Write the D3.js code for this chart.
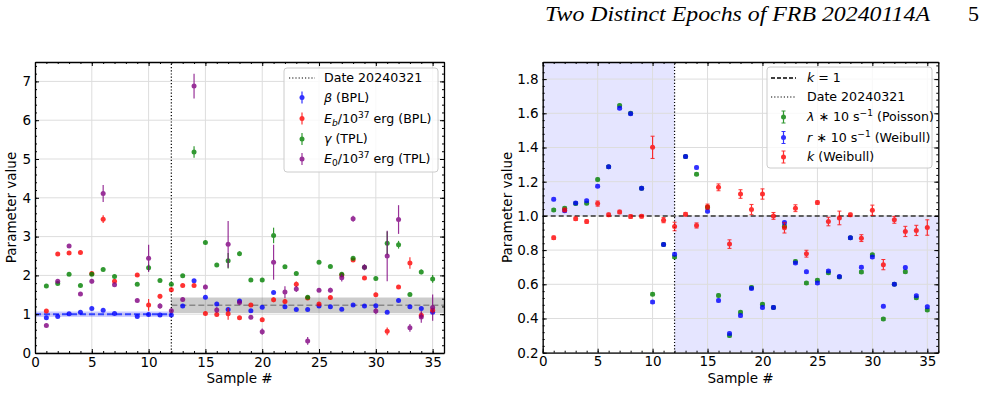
<html>
<head>
<script src="https://d3js.org/d3.v7.min.js"></script>
<style>
  body { margin: 0; background: #fff; }
  text { font-family: "DejaVu Sans", sans-serif; fill: #000; }
  .grid line { stroke: #dddddd; stroke-width: 1; }
  .frame path, .frame line { stroke: #000; }
</style>
</head>
<body>
<svg id="chart" width="984" height="393"></svg>
<script>
// ---- left panel data (sample 8 absent) ----
const leftSamples = [1,2,3,4,5,6,7,9,10,11,12,13,14,15,16,17,18,19,20,21,22,23,24,25,26,27,28,29,30,31,32,33,34,35];
const betaBPL   = [0.91,0.94,1.01,1.05,1.15,1.10,1.02,0.94,0.99,0.98,0.98,1.21,1.86,1.44,1.26,1.12,1.34,1.09,1.18,1.56,1.19,1.12,1.12,1.21,1.19,1.13,1.24,1.21,1.22,1.05,1.35,1.19,1.15,1.05];
const betaErr   = [0.03,0.03,0.03,0.03,0.03,0.03,0.03,0.03,0.03,0.03,0.03,0.03,0.03,0.03,0.03,0.04,0.04,0.03,0.03,0.04,0.03,0.03,0.03,0.03,0.03,0.03,0.03,0.03,0.03,0.04,0.04,0.03,0.03,0.04];
const ebBPL     = [1.08,2.55,2.58,2.59,2.05,3.45,1.85,2.01,1.24,1.46,1.63,1.74,1.74,1.02,0.99,1.01,0.91,1.24,0.86,1.37,1.33,1.77,1.42,1.26,1.43,2.01,2.40,1.93,1.50,0.56,1.70,2.32,0.97,1.10];
const ebErr     = [0.04,0.04,0.04,0.04,0.04,0.10,0.04,0.04,0.15,0.06,0.05,0.04,0.04,0.04,0.04,0.15,0.04,0.05,0.05,0.06,0.07,0.07,0.05,0.04,0.05,0.05,0.05,0.04,0.05,0.10,0.05,0.15,0.08,0.06];
const gammaTPL  = [1.73,1.79,2.03,1.74,2.03,2.15,1.97,1.77,2.20,1.87,1.77,1.99,5.18,2.85,2.27,2.38,2.56,1.88,1.88,3.03,2.22,2.05,1.44,2.34,2.23,2.03,2.44,2.21,1.92,2.83,2.79,1.51,2.09,1.91];
const gammaErr  = [0.04,0.04,0.04,0.04,0.04,0.04,0.04,0.04,0.08,0.04,0.04,0.04,0.15,0.04,0.04,0.20,0.06,0.04,0.04,0.20,0.05,0.04,0.05,0.04,0.04,0.04,0.05,0.05,0.04,0.30,0.10,0.04,0.06,0.10];
const e0TPL     = [0.71,1.85,2.76,1.52,1.85,4.11,1.76,1.35,2.44,1.21,1.09,1.38,6.88,1.70,1.11,2.80,1.30,0.92,0.55,2.34,1.57,1.65,0.31,1.62,1.62,1.94,3.46,2.21,1.08,2.50,3.44,0.65,0.93,1.17];
const e0Err     = [0.04,0.04,0.05,0.04,0.06,0.22,0.05,0.04,0.35,0.07,0.05,0.05,0.32,0.06,0.07,0.60,0.05,0.05,0.08,0.45,0.15,0.08,0.10,0.05,0.06,0.10,0.08,0.08,0.08,0.65,0.37,0.10,0.15,0.34];
// mean levels with bands before / after 20240321
const betaBefore = { mean: 1.0, lo: 0.93, hi: 1.07 };
const betaAfter  = { mean: 1.23, lo: 1.03, hi: 1.43 };

// ---- right panel data ----
const rightSamples = d3.range(1, 36);
const lambdaPois = [1.035,1.045,1.072,1.074,1.213,1.287,1.645,1.600,1.161,0.542,0.833,0.760,1.347,1.244,1.050,0.535,0.300,0.436,0.582,0.483,0.465,0.940,0.734,0.607,0.624,0.667,0.643,0.872,0.672,0.773,0.397,0.601,0.674,0.521,0.450];
const rWeib      = [1.097,1.030,1.076,1.089,1.174,1.287,1.630,1.598,1.161,0.496,0.833,0.776,1.347,1.283,1.027,0.505,0.312,0.417,0.576,0.465,0.465,0.961,0.725,0.674,0.607,0.678,0.645,0.872,0.700,0.760,0.471,0.601,0.698,0.533,0.469];
const kWeib      = [0.872,1.035,0.983,0.967,1.072,1.006,1.023,0.996,0.998,1.401,0.975,0.938,1.010,0.944,1.054,1.167,0.835,1.128,1.037,1.128,1.000,0.930,1.045,0.779,1.078,0.967,0.988,1.006,0.870,1.033,0.715,0.977,0.909,0.915,0.932];
const kErr       = [0.010,0.010,0.010,0.010,0.015,0.010,0.010,0.010,0.010,0.065,0.015,0.025,0.010,0.015,0.015,0.020,0.025,0.025,0.030,0.030,0.020,0.030,0.020,0.020,0.010,0.025,0.040,0.010,0.020,0.030,0.030,0.020,0.030,0.030,0.045];
const rateErr    = 0.008;

const epochSample = 12;

const svg = d3.select("#chart");

// header
svg.append("text").attr("x", 545).attr("y", 21)
  .style("font-family", "'Liberation Serif', serif").style("font-style", "italic")
  .attr("font-size", 22).attr("textLength", 385).attr("lengthAdjust", "spacingAndGlyphs")
  .text("Two Distinct Epochs of FRB 20240114A");
svg.append("text").attr("x", 968).attr("y", 21)
  .style("font-family", "'Liberation Serif', serif")
  .attr("font-size", 22).text("5");

function richText(g, x, y, segs, size) {
  const t = g.append("text").attr("x", x).attr("y", y).attr("font-size", size);
  let shift = 0;
  segs.forEach((s, i) => {
    const ts = t.append("tspan").text(s.t);
    let target = 0;
    if (s.sub) target = size * 0.22;
    if (s.sup) target = -size * 0.42;
    ts.attr("dy", (i === 0 ? size * 0.35 : 0) + target - shift);
    shift = target;
    if (s.it) ts.style("font-style", "italic");
    if (target !== 0) ts.attr("font-size", size * 0.72);
  });
}

function drawPanel(opts) {
  const x = d3.scaleLinear().domain([0, 36]).range([opts.left, opts.right]);
  const y = d3.scaleLinear().domain(opts.yDomain).range([opts.bottom, opts.top]);
  const g = svg.append("g");

  const under = g.append("g");
  opts.under && opts.under(under, x, y);

  // grid
  const grid = g.append("g").attr("class", "grid");
  grid.selectAll("line.v").data(opts.xTicks).join("line").attr("class", "v")
    .attr("x1", d => x(d)).attr("x2", d => x(d)).attr("y1", opts.top).attr("y2", opts.bottom);
  grid.selectAll("line.h").data(opts.yTicks).join("line").attr("class", "h")
    .attr("x1", opts.left).attr("x2", opts.right).attr("y1", d => y(d)).attr("y2", d => y(d));

  opts.over && opts.over(g, x, y);

  // series
  opts.series.forEach(s => {
    const sg = g.append("g").attr("opacity", 0.8);
    const pts = s.xs.map((xv, i) => ({ x: xv, v: s.values[i], e: s.errs[i] }));
    sg.selectAll("line.err").data(pts).join("line").attr("class", "err")
      .attr("x1", d => x(d.x)).attr("x2", d => x(d.x))
      .attr("y1", d => y(d.v - d.e)).attr("y2", d => y(d.v + d.e))
      .attr("stroke", s.color).attr("stroke-width", 1.2);
    if (opts.caps) {
      [-1, 1].forEach(sign => {
        sg.selectAll("line.cap" + sign).data(pts).join("line").attr("class", "cap" + sign)
          .attr("x1", d => x(d.x) - 2).attr("x2", d => x(d.x) + 2)
          .attr("y1", d => y(d.v + sign * d.e)).attr("y2", d => y(d.v + sign * d.e))
          .attr("stroke", s.color).attr("stroke-width", 1);
      });
    }
    sg.selectAll("circle").data(pts).join("circle")
      .attr("cx", d => x(d.x)).attr("cy", d => y(d.v)).attr("r", 2.5).attr("fill", s.color);
  });

  // frame and ticks
  const frame = g.append("g").attr("class", "frame");
  const font = (sel) => sel.attr("font-size", 13.5).attr("font-family", "DejaVu Sans");
  const xMinor = d3.range(0, 37, 1);
  frame.append("g").attr("transform", `translate(0,${opts.bottom})`)
    .call(d3.axisBottom(x).tickValues(opts.xTicks).tickSize(-4).tickSizeOuter(0).tickPadding(4))
    .call(font);
  frame.append("g").attr("transform", `translate(0,${opts.top})`)
    .call(d3.axisTop(x).tickValues(opts.xTicks).tickSize(-4).tickSizeOuter(0).tickFormat(""));
  frame.append("g").attr("transform", `translate(${opts.left},0)`)
    .call(d3.axisLeft(y).tickValues(opts.yTicks).tickSize(-4).tickSizeOuter(0).tickPadding(4).tickFormat(opts.yFormat))
    .call(font);
  frame.append("g").attr("transform", `translate(${opts.right},0)`)
    .call(d3.axisRight(y).tickValues(opts.yTicks).tickSize(-4).tickSizeOuter(0).tickFormat(""));
  // minor ticks
  [[d3.axisBottom, opts.bottom], [d3.axisTop, opts.top]].forEach(([ax, pos]) => {
    frame.append("g").attr("transform", `translate(0,${pos})`)
      .call(ax(x).tickValues(xMinor).tickSize(-2).tickSizeOuter(0).tickFormat(""))
      .call(a => a.select(".domain").remove());
  });
  [[d3.axisLeft, opts.left], [d3.axisRight, opts.right]].forEach(([ax, pos]) => {
    frame.append("g").attr("transform", `translate(${pos},0)`)
      .call(ax(y).tickValues(opts.yMinor).tickSize(-2).tickSizeOuter(0).tickFormat(""))
      .call(a => a.select(".domain").remove());
  });
  frame.selectAll(".domain").attr("stroke-width", 1.3);

  // axis labels
  svg.append("text").attr("x", (opts.left + opts.right) / 2).attr("y", opts.bottom + 30)
    .attr("text-anchor", "middle").attr("font-size", 13.5).text("Sample #");
  svg.append("text")
    .attr("transform", `translate(${opts.left - opts.yLabelGap},${(opts.top + opts.bottom) / 2}) rotate(-90)`)
    .attr("text-anchor", "middle").attr("font-size", 13.5).text("Parameter value");

  return { x, y };
}

// ---------- LEFT PANEL ----------
drawPanel({
  left: 35, right: 444, top: 62, bottom: 353,
  yDomain: [0, 7.5],
  xTicks: d3.range(0, 36, 5),
  yTicks: d3.range(0, 8, 1),
  yMinor: d3.range(0, 38).map(d => d / 5),
  yFormat: d3.format("d"),
  yLabelGap: 19,
  caps: false,
  over: (g, x, y) => {
    g.append("rect").attr("x", x(0)).attr("width", x(epochSample) - x(0))
      .attr("y", y(betaBefore.hi)).attr("height", y(betaBefore.lo) - y(betaBefore.hi))
      .attr("fill", "blue").attr("opacity", 0.2);
    g.append("line").attr("x1", x(0)).attr("x2", x(epochSample))
      .attr("y1", y(betaBefore.mean)).attr("y2", y(betaBefore.mean))
      .attr("stroke", "#3344ff").attr("stroke-width", 2).attr("stroke-dasharray", "6,3");
    g.append("rect").attr("x", x(epochSample)).attr("width", x(36) - x(epochSample))
      .attr("y", y(betaAfter.hi)).attr("height", y(betaAfter.lo) - y(betaAfter.hi))
      .attr("fill", "gray").attr("opacity", 0.4);
    g.append("line").attr("x1", x(epochSample)).attr("x2", x(36))
      .attr("y1", y(betaAfter.mean)).attr("y2", y(betaAfter.mean))
      .attr("stroke", "#888").attr("stroke-width", 1.6).attr("stroke-dasharray", "6,3");
    g.append("line").attr("x1", x(epochSample)).attr("x2", x(epochSample))
      .attr("y1", y(0)).attr("y2", y(7.5))
      .attr("stroke", "#000").attr("stroke-width", 1.2).attr("stroke-dasharray", "1.2,2");
  },
  series: [
    { xs: leftSamples, values: betaBPL, errs: betaErr, color: "blue" },
    { xs: leftSamples, values: ebBPL, errs: ebErr, color: "red" },
    { xs: leftSamples, values: gammaTPL, errs: gammaErr, color: "green" },
    { xs: leftSamples, values: e0TPL, errs: e0Err, color: "purple" }
  ]
});

// ---------- RIGHT PANEL ----------
drawPanel({
  left: 542.7, right: 938.3, top: 62, bottom: 352.7,
  yDomain: [0.2, 1.9],
  xTicks: d3.range(0, 36, 5),
  yTicks: d3.range(2, 19, 2).map(d => d / 10),
  yMinor: d3.range(5, 48).map(d => d * 0.04),
  yFormat: d3.format(".1f"),
  yLabelGap: 31,
  caps: true,
  under: (g, x, y) => {
    g.append("rect").attr("x", x(0)).attr("width", x(epochSample) - x(0))
      .attr("y", y(1.9)).attr("height", y(1.0) - y(1.9))
      .attr("fill", "blue").attr("opacity", 0.1);
    g.append("rect").attr("x", x(epochSample)).attr("width", x(36) - x(epochSample))
      .attr("y", y(1.0)).attr("height", y(0.2) - y(1.0))
      .attr("fill", "blue").attr("opacity", 0.1);
  },
  over: (g, x, y) => {
    g.append("line").attr("x1", x(0)).attr("x2", x(36))
      .attr("y1", y(1)).attr("y2", y(1))
      .attr("stroke", "#333").attr("stroke-width", 1.5).attr("stroke-dasharray", "5,3");
    g.append("line").attr("x1", x(epochSample)).attr("x2", x(epochSample))
      .attr("y1", y(0.2)).attr("y2", y(1.9))
      .attr("stroke", "#000").attr("stroke-width", 1.2).attr("stroke-dasharray", "1.2,2");
  },
  series: [
    { xs: rightSamples, values: lambdaPois, errs: lambdaPois.map(() => rateErr), color: "green" },
    { xs: rightSamples, values: rWeib, errs: rWeib.map(() => rateErr), color: "blue" },
    { xs: rightSamples, values: kWeib, errs: kErr, color: "red" }
  ]
});

// ---------- legends ----------
function legendBox(x, y, w, h) {
  svg.append("rect").attr("x", x).attr("y", y).attr("width", w).attr("height", h)
    .attr("rx", 3).attr("fill", "#fff").attr("fill-opacity", 0.8)
    .attr("stroke", "#cccccc").attr("stroke-width", 1);
}
function errHandle(cx, cy, color, caps) {
  const h = svg.append("g").attr("opacity", 0.8);
  h.append("line").attr("x1", cx).attr("x2", cx).attr("y1", cy - 6).attr("y2", cy + 6)
    .attr("stroke", color).attr("stroke-width", 1.2);
  if (caps) {
    [-6, 6].forEach(dy => h.append("line").attr("x1", cx - 2).attr("x2", cx + 2)
      .attr("y1", cy + dy).attr("y2", cy + dy).attr("stroke", color));
  }
  h.append("circle").attr("cx", cx).attr("cy", cy).attr("r", 2.5).attr("fill", color);
}

const lfs = 12.6;
legendBox(284, 68, 154, 104);
svg.append("line").attr("x1", 289).attr("x2", 315).attr("y1", 78).attr("y2", 78)
  .attr("stroke", "#000").attr("stroke-width", 1.2).attr("stroke-dasharray", "1.2,2");
richText(svg, 324, 78, [{ t: "Date 20240321" }], lfs);
const leftLegend = [
  { y: 97.5, color: "blue", segs: [{ t: "β", it: true }, { t: " (BPL)" }] },
  { y: 118.5, color: "red", segs: [{ t: "E", it: true }, { t: "b", it: true, sub: true }, { t: "/10" }, { t: "37", sup: true }, { t: " erg (BPL)" }] },
  { y: 139, color: "green", segs: [{ t: "γ", it: true }, { t: " (TPL)" }] },
  { y: 159, color: "purple", segs: [{ t: "E", it: true }, { t: "0", sub: true }, { t: "/10" }, { t: "37", sup: true }, { t: " erg (TPL)" }] }
];
leftLegend.forEach(d => { errHandle(302, d.y, d.color, false); richText(svg, 324, d.y, d.segs, lfs); });

legendBox(767, 67, 165, 101);
svg.append("line").attr("x1", 771).attr("x2", 796).attr("y1", 78).attr("y2", 78)
  .attr("stroke", "#000").attr("stroke-width", 1.3).attr("stroke-dasharray", "4,2");
richText(svg, 807, 78, [{ t: "k", it: true }, { t: " = 1" }], lfs);
svg.append("line").attr("x1", 771).attr("x2", 796).attr("y1", 97).attr("y2", 97)
  .attr("stroke", "#000").attr("stroke-width", 1.2).attr("stroke-dasharray", "1.2,2");
richText(svg, 807, 97, [{ t: "Date 20240321" }], lfs);
const rightLegend = [
  { y: 117, color: "green", segs: [{ t: "λ", it: true }, { t: " ∗ 10 s" }, { t: "−1", sup: true }, { t: " (Poisson)" }] },
  { y: 137.5, color: "blue", segs: [{ t: "r", it: true }, { t: " ∗ 10 s" }, { t: "−1", sup: true }, { t: " (Weibull)" }] },
  { y: 157, color: "red", segs: [{ t: "k", it: true }, { t: " (Weibull)" }] }
];
rightLegend.forEach(d => { errHandle(783.5, d.y, d.color, true); richText(svg, 807, d.y, d.segs, lfs); });
</script>
</body>
</html>
